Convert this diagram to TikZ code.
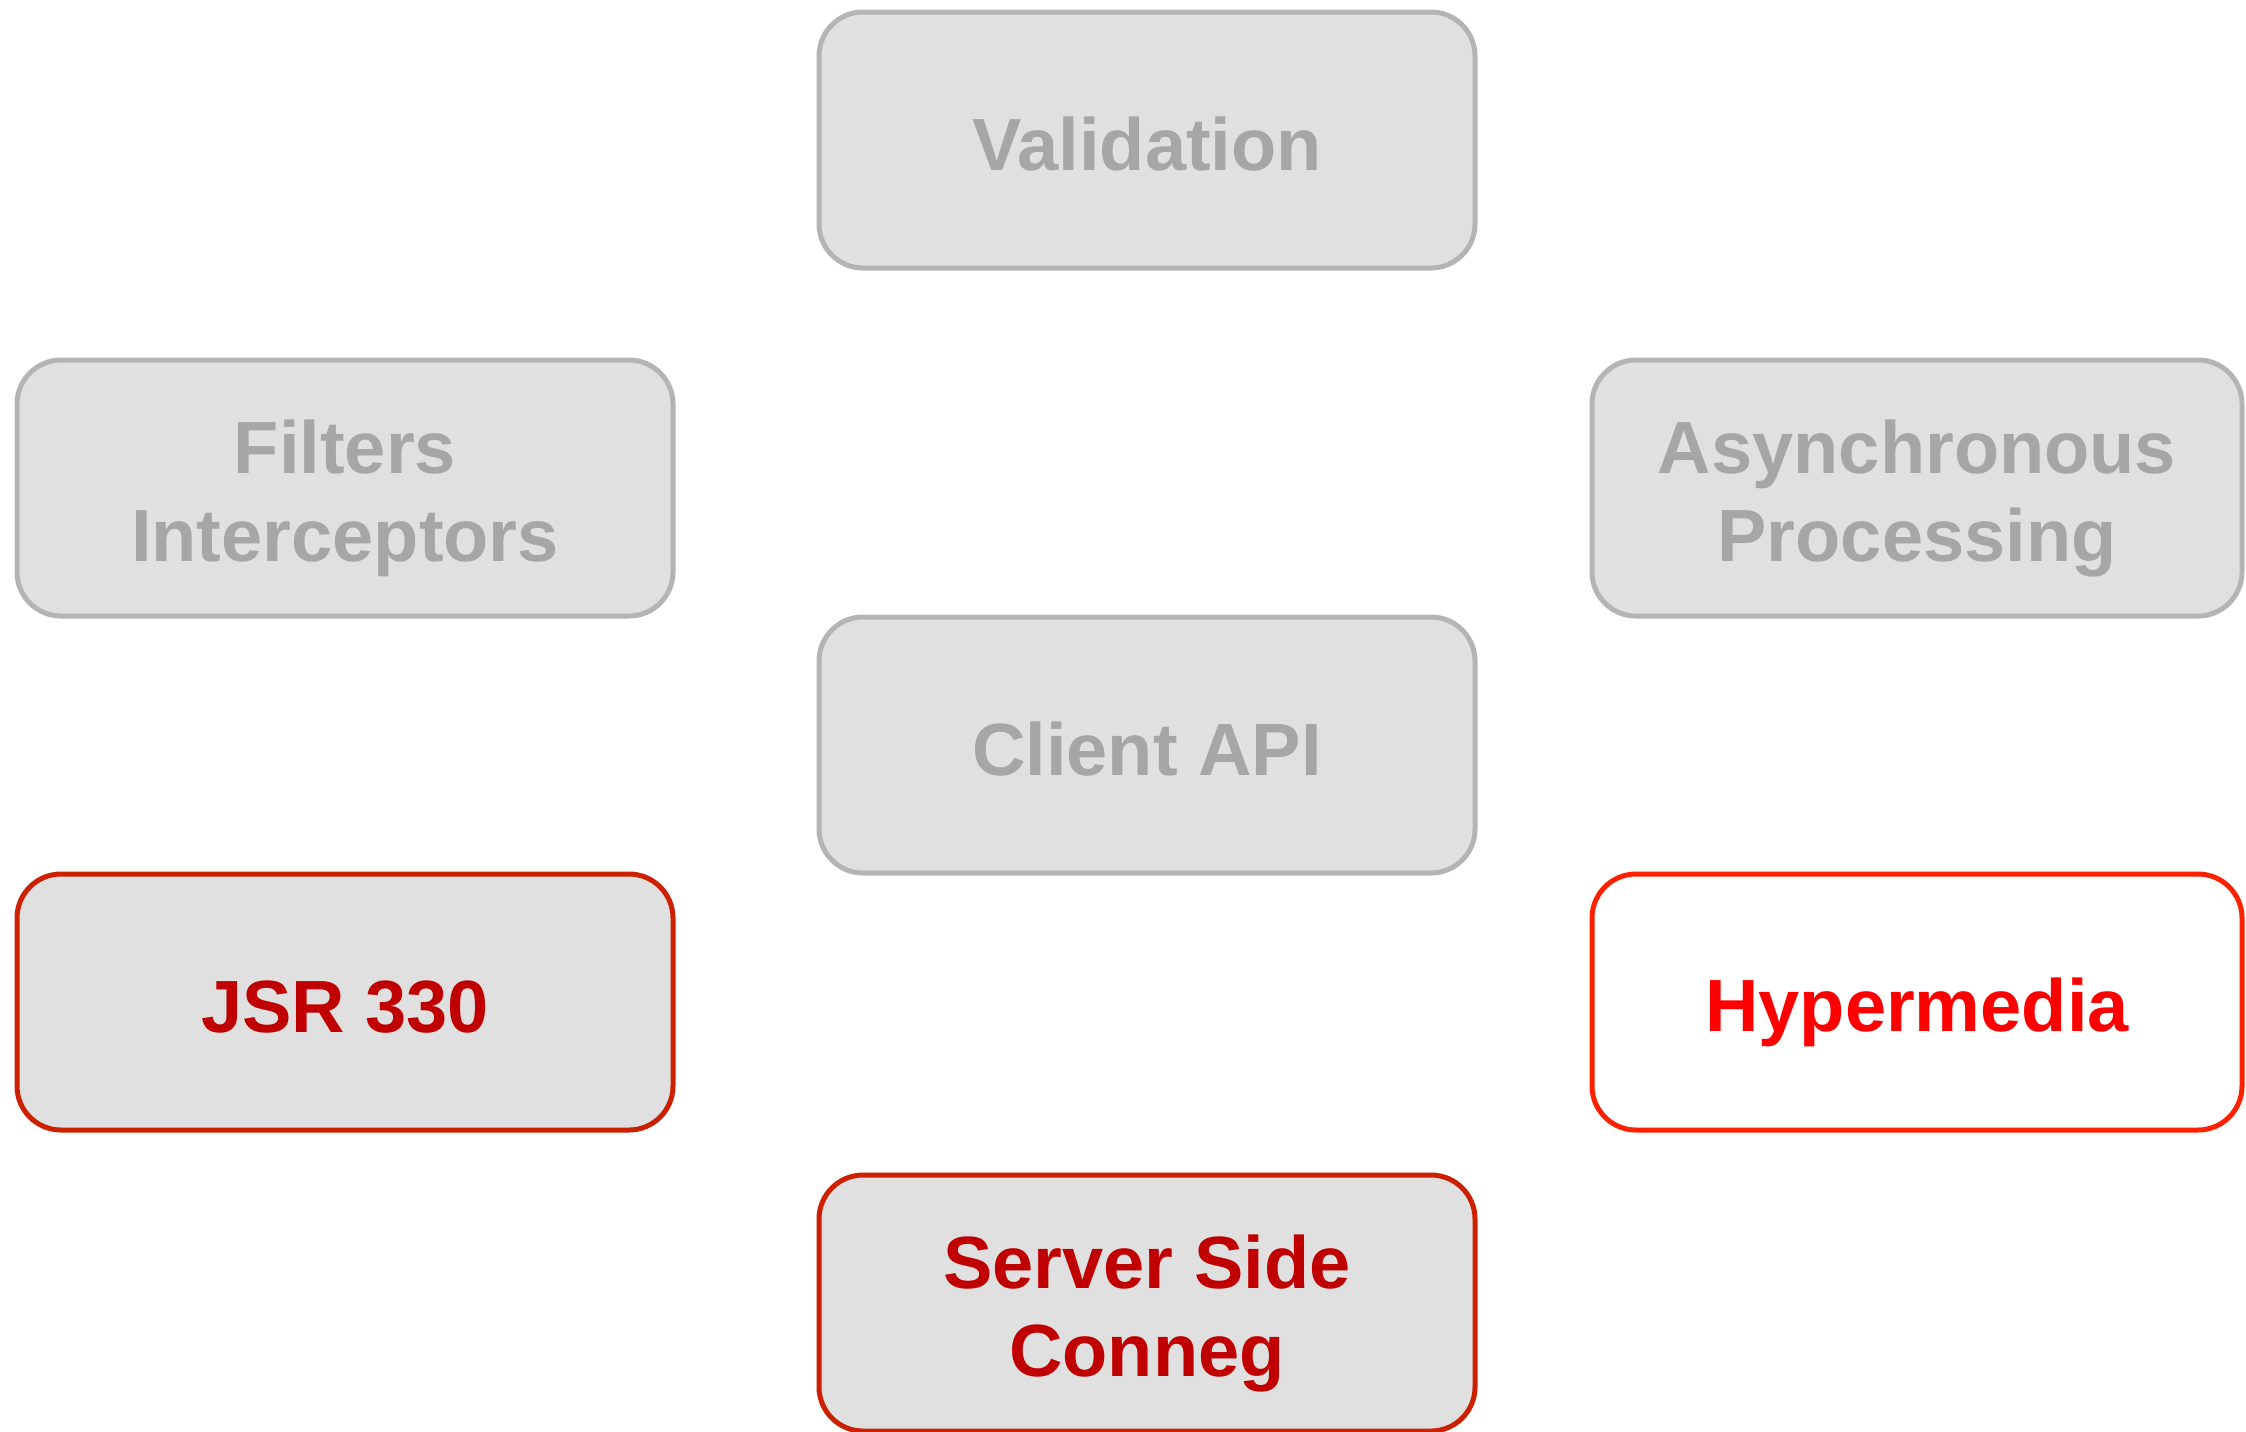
\documentclass[tikz,border=0pt]{standalone}
\usepackage{fontspec}
\setmainfont{Liberation Sans}
\usepackage{xcolor}
\usepackage{tikz}
\definecolor{cFill}{HTML}{E0E0E0}
\definecolor{cEdge}{HTML}{B4B4B4}
\definecolor{cText}{HTML}{A6A6A6}
\definecolor{cDark}{HTML}{C00000}
\definecolor{cDarkE}{HTML}{CC2000}
\definecolor{cHot} {HTML}{FF0000}
\definecolor{cHotE}{HTML}{FF2200}
% every line gets the same height and depth, descenders or not
\newcommand{\tline}[1]{\rule[-7pt]{0pt}{44pt}#1}
\lineskiplimit=-20pt\relax
\tikzset{
  fbox/.style={rounded corners=22pt,draw,line width=2.5pt,align=center,
               minimum width=328pt,minimum height=128pt,
               font=\fontsize{37}{44}\selectfont\bfseries},
  fgray/.style={fbox,fill=cFill,draw=cEdge,text=cText},
  fdark/.style={fbox,fill=cFill,draw=cDarkE,text=cDark},
  fhot/.style ={fbox,fill=white,draw=cHotE,text=cHot},
}

\begin{document}
\begin{tikzpicture}[x=0.5pt,y=-0.5pt]
        \useasboundingbox (0,0) rectangle (2246,1431);
        \node[fgray] (val)    at (1147,140)  {\tline{Validation}};
        \node[fgray] (filt)   at (345,488)   {\tline{Filters}\\\tline{Interceptors}};
        \node[fgray,minimum width=325pt] (async) at (1917,488)
          {\tline{Asynchronous}\\\tline{Processing}};
        \node[fgray] (client) at (1147,745)  {\tline{Client API}};
        \node[fdark] (jsr)    at (345,1002)  {\tline{JSR 330}};
        \node[fhot,minimum width=325pt] (hyper) at (1917,1002) {\tline{Hypermedia}};
        \node[fdark] (conneg) at (1147,1303) {\tline{Server Side}\\\tline{Conneg}};
      \end{tikzpicture}
\end{document}
